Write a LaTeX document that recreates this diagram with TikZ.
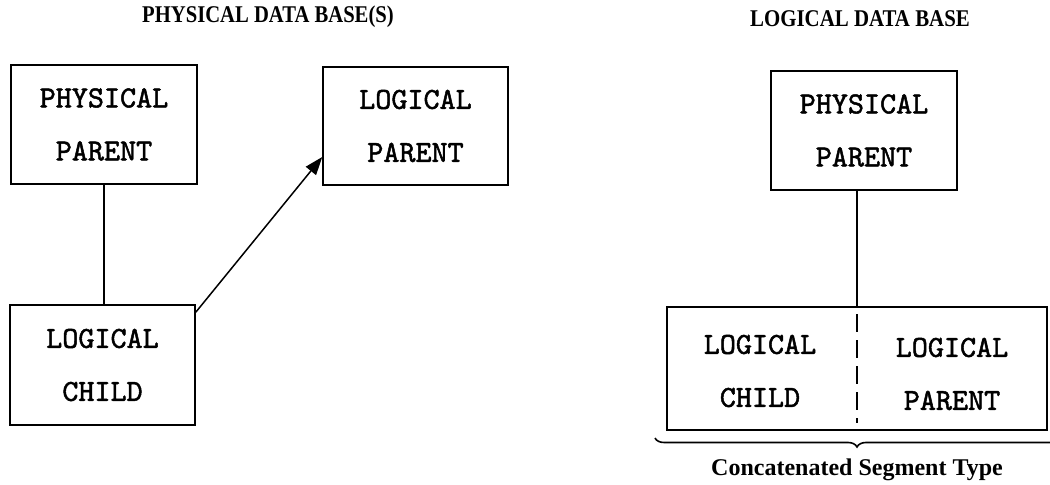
\documentclass[tikz,border=0pt]{standalone}
\usepackage{fontspec}
\setmainfont{Liberation Serif}
\newfontfamily\segfont[FakeBold=1.6]{lmmono10-regular.otf}
\usetikzlibrary{arrows.meta,decorations.pathreplacing}
\tikzset{
  seg/.style={draw, line width=0.75pt, rectangle, inner sep=0pt, align=center,
    font=\segfont\fontsize{15.3}{26.5}\selectfont},
  conn/.style={line width=0.75pt},
  ttl/.style={font=\bfseries\fontsize{12}{14}\selectfont, inner sep=0pt},
  captext/.style={font=\bfseries\fontsize{12}{14}\selectfont, inner sep=0pt},
  txt/.style={font=\segfont\fontsize{15.3}{26.5}\selectfont, align=center, inner sep=0pt}
}
\begin{document}
\begin{tikzpicture}[x=0.5pt,y=-0.5pt]
\useasboundingbox (0,0) rectangle (1050,485);
% titles
\node[ttl] (t1) at (268,17) {\scalebox{0.86}[1]{PHYSICAL DATA BASE(S)}};
\node[ttl] (t2) at (860,19) {\scalebox{0.87}[1]{LOGICAL DATA BASE}};
% left: physical data base(s)
\node[seg, minimum width=93pt, minimum height=59.5pt] (pp1) at (104,124.5) {PHYSICAL\\PARENT};
\node[seg, minimum width=92.5pt, minimum height=60pt] (lc1) at (102.5,365) {LOGICAL\\CHILD};
\node[seg, minimum width=92.5pt, minimum height=59pt] (lp1) at (415.5,126) {LOGICAL\\PARENT};
\draw[conn] (pp1.south) -- (pp1.south |- lc1.north);
\coordinate (a0) at ([yshift=-4pt]lc1.north east);
\coordinate (a1) at (lp1.west |- 0,157);
\draw[conn, -{Triangle[length=9pt,width=6.5pt]}] (a0) -- (a1);
% right: logical data base
\node[seg, minimum width=93pt, minimum height=59.5pt] (pp2) at (864,130.5) {PHYSICAL\\PARENT};
\node[draw, line width=0.75pt, minimum width=190pt, minimum height=61.5pt, inner sep=0pt] (cs) at (857,368.5) {};
\draw[conn] (pp2.south -| cs.north) -- (cs.north);
\draw[conn, dash pattern=on 9pt off 4pt] ([yshift=-4pt]cs.north) -- ([yshift=4pt]cs.south);
\node[txt] (lc2) at (760,371) {LOGICAL\\CHILD};
\node[txt] (lp2) at (952,374) {LOGICAL\\PARENT};
% brace
\coordinate (bl) at (655,438);
\coordinate (br) at (1059,438);
\draw[line width=0.8pt, decorate, decoration={brace, mirror, amplitude=4.5pt}] (bl) -- (br);
\node[captext] (cst) at (857,470) {Concatenated Segment Type};
\end{tikzpicture}
\end{document}
